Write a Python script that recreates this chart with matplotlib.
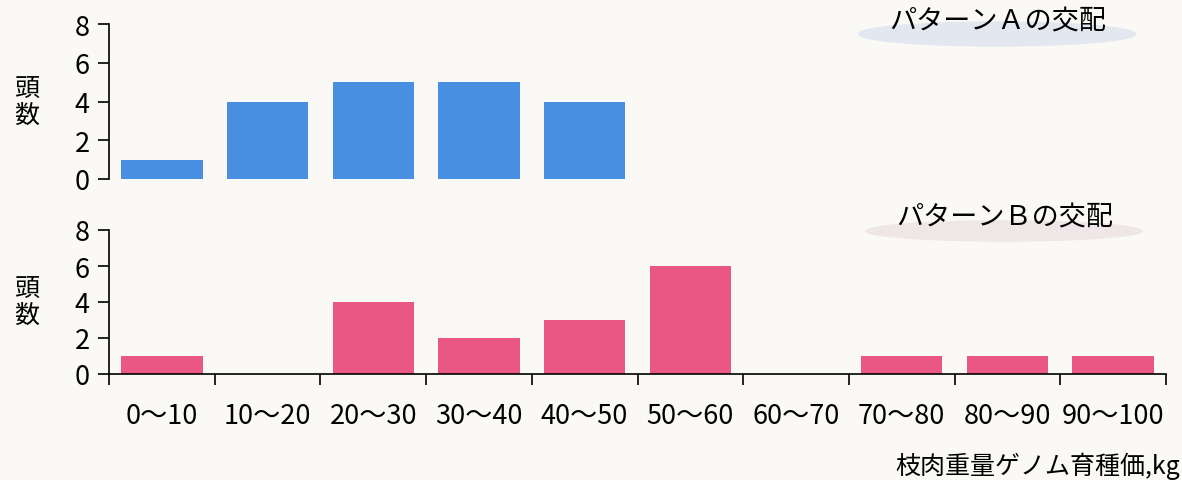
import matplotlib.pyplot as plt
from matplotlib.patches import Ellipse

plt.rcParams['font.family'] = ['Noto Sans CJK JP', 'DejaVu Sans']

categories = ['0～10', '10～20', '20～30', '30～40', '40～50',
              '50～60', '60～70', '70～80', '80～90', '90～100']
pattern_a = [1, 4, 5, 5, 4, 0, 0, 0, 0, 0]
pattern_b = [1, 0, 4, 2, 3, 6, 0, 1, 1, 1]
title_a = 'パターンＡの交配'
title_b = 'パターンＢの交配'
ylabel = '頭\n数'
xlabel = '枝肉重量ゲノム育種価,kg'

bg = '#faf9f5'
blue = '#4a90e2'
pink = '#eb5784'

fig = plt.figure(figsize=(11.82, 4.81), dpi=100, facecolor=bg)
W, H = 1182, 481

left = 109 / W
right = 1166 / W
ax_a = fig.add_axes([left, 1 - 180 / H, right - left, (180 - 25) / H])
ax_b = fig.add_axes([left, 1 - 375 / H, right - left, (375 - 231) / H])

x = list(range(len(categories)))


def style(ax, values, color, bottom_axis):
    ax.set_facecolor(bg)
    ax.bar([i for i, v in enumerate(values) if v > 0],
           [v for v in values if v > 0], width=0.77, color=color)
    ax.set_xlim(-0.5, len(categories) - 0.5)
    ax.set_ylim(0, 8)
    ax.set_yticks([0, 2, 4, 6, 8])
    ax.spines['top'].set_visible(False)
    ax.spines['right'].set_visible(False)
    ax.spines['left'].set_linewidth(1.2)
    ax.tick_params(axis='y', length=8, width=1.2, labelsize=19.5, pad=6)
    ax.set_ylabel(ylabel, rotation=0, fontsize=18, linespacing=1.0,
                  va='center', ha='center')
    ax.yaxis.set_label_coords(-82 / 1057, 0.5)
    if bottom_axis:
        ax.spines['bottom'].set_linewidth(1.2)
        ax.set_xticks([i - 0.5 for i in range(len(categories) + 1)])
        ax.set_xticklabels([])
        ax.set_xticks(x, minor=True)
        ax.set_xticklabels(categories, minor=True, fontsize=19.5)
        ax.tick_params(axis='x', which='major', length=8, width=1.2)
        ax.tick_params(axis='x', which='minor', length=0, pad=20)
    else:
        ax.spines['bottom'].set_visible(False)
        ax.set_xticks([])


style(ax_a, pattern_a, blue, False)
style(ax_b, pattern_b, pink, True)

# title bubbles
fig.patches.append(Ellipse((997 / W, 1 - 35 / H), 277 / W, 24 / H,
                           transform=fig.transFigure, color='#e3e8f0', zorder=0))
fig.patches.append(Ellipse((1004 / W, 1 - 232 / H), 276 / W, 20 / H,
                           transform=fig.transFigure, color='#efe6e8', zorder=0))
fig.text(998 / W, 1 - 22 / H, title_a, fontsize=19.5, ha='center', va='center')
fig.text(1005 / W, 1 - 218 / H, title_b, fontsize=19.5, ha='center', va='center')

fig.text(1180 / W, 1 - 466 / H, xlabel, fontsize=18, ha='right', va='center')

fig.savefig('out.png', dpi=100, facecolor=bg)
